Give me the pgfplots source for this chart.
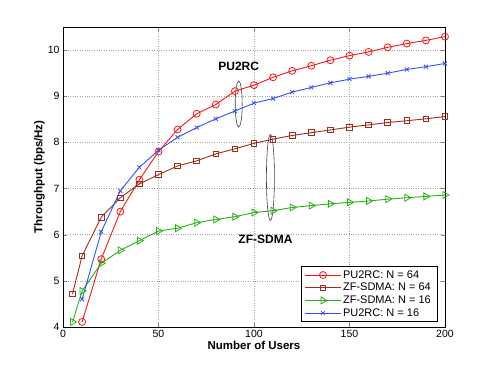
\documentclass[border=0pt]{standalone}
\usepackage{pgfplots}
\pgfplotsset{compat=1.18}
\usepackage{fontspec}
\setmainfont{Liberation Sans}
\definecolor{cred}{RGB}{255,20,20}
\definecolor{cbrown}{RGB}{160,45,25}
\definecolor{cgreen}{RGB}{40,175,20}
\definecolor{cblue}{RGB}{50,80,255}
\begin{document}
\begin{tikzpicture}
\path[use as bounding box] (-63pt,-42pt) rectangle (428pt,327pt);
\begin{axis}[
  scale only axis, width=382pt, height=300pt,
  xmin=0, xmax=200, ymin=4, ymax=10.5,
  xtick={0,50,100,150,200}, ytick={4,5,6,7,8,9,10},
  grid=major, major grid style={dotted, gray!70, line width=0.5pt},
  tick align=inside, tick pos=both,
  /pgf/number format/assume math mode=true,
  tick label style={font=\fontsize{10.5}{12}\selectfont},
  xlabel={\bfseries Number of Users},
  ylabel={\bfseries Throughput (bps/Hz)},
  label style={font=\fontsize{11.5}{13}\selectfont},
  xlabel style={yshift=4pt},
  ylabel style={yshift=-4pt},
  legend cell align=left,
  legend style={at={(rel axis cs:0.979,0.017)}, anchor=south east,
    font=\fontsize{11}{12.5}\selectfont, draw=black, row sep=-0.5pt,
    inner xsep=4pt, inner ysep=2pt},
  legend image code/.code={\draw[mark repeat=2,mark phase=2] plot coordinates {(0cm,0cm)(0.62cm,0cm)(1.24cm,0cm)};},
  every axis plot/.append style={line width=0.9pt},
]
\addplot[cred, mark=o, mark size=3.5pt, mark options={line width=0.8pt}] coordinates {
(10,4.11)(20,5.47)(30,6.50)(40,7.19)(50,7.80)(60,8.28)(70,8.62)(80,8.82)(90,9.11)(100,9.24)
(110,9.41)(120,9.55)(130,9.66)(140,9.78)(150,9.88)(160,9.96)(170,10.06)(180,10.14)(190,10.21)(200,10.29)};
\addlegendentry{PU2RC: N = 64}
\addplot[cbrown, mark=square, mark size=2.8pt, mark options={line width=0.8pt}] coordinates {
(5,4.72)(10,5.54)(20,6.38)(30,6.80)(40,7.10)(50,7.30)(60,7.49)(70,7.60)(80,7.75)(90,7.86)(100,7.98)
(110,8.07)(120,8.15)(130,8.21)(140,8.27)(150,8.33)(160,8.38)(170,8.43)(180,8.47)(190,8.51)(200,8.56)};
\addlegendentry{ZF-SDMA: N = 64}
\addplot[cgreen, mark=triangle, mark size=4pt, mark options={rotate=-90, line width=0.8pt}] coordinates {
(5,4.11)(10,4.78)(20,5.38)(30,5.66)(40,5.87)(50,6.08)(60,6.14)(70,6.26)(80,6.33)(90,6.39)(100,6.48)
(110,6.52)(120,6.59)(130,6.63)(140,6.67)(150,6.70)(160,6.73)(170,6.77)(180,6.80)(190,6.83)(200,6.86)};
\addlegendentry{ZF-SDMA: N = 16}
\addplot[cblue, mark=x, mark size=2.8pt, mark options={line width=0.8pt}] coordinates {
(10,4.60)(20,6.06)(30,6.95)(40,7.46)(50,7.83)(60,8.11)(70,8.32)(80,8.51)(90,8.68)(100,8.85)
(110,8.95)(120,9.09)(130,9.19)(140,9.29)(150,9.37)(160,9.43)(170,9.50)(180,9.58)(190,9.64)(200,9.71)};
\addlegendentry{PU2RC: N = 16}
\draw[black!75, line width=0.6pt] (axis cs:92,8.83) ellipse [x radius=3.5pt, y radius=23pt];
\draw[black!75, line width=0.6pt] (axis cs:108.6,7.24) ellipse [x radius=4pt, y radius=43pt];
\node[font=\bfseries\fontsize{12}{14}\selectfont] at (axis cs:92,9.64) {PU2RC};
\node[font=\bfseries\fontsize{12}{14}\selectfont] at (axis cs:106,5.90) {ZF-SDMA};
\end{axis}
\end{tikzpicture}
\end{document}
